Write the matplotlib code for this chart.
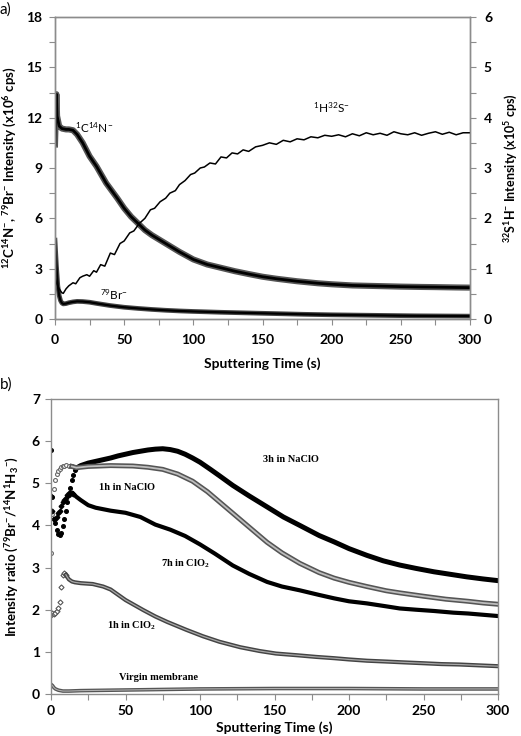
import matplotlib
matplotlib.use("Agg")
import matplotlib.pyplot as plt
import numpy as np
from matplotlib.ticker import MultipleLocator

plt.rcParams["font.family"] = ["Lato", "DejaVu Sans"]
plt.rcParams["mathtext.default"] = "regular"

# ---- panel a: raw intensities ----
t_cn = [0, 1, 1.5, 3, 5, 8, 10, 13, 16, 20, 25, 30, 37, 45, 50, 55, 60, 65, 70, 75, 80,
        90, 100, 110, 120, 130, 140, 150, 160, 175, 190, 200, 215, 225, 240, 250, 265,
        275, 290, 300]
cn = [10.4, 13.4, 12.1, 11.5, 11.35, 11.3, 11.3, 11.25, 11.0, 10.5, 9.7, 9.1, 8.1, 7.2,
      6.6, 6.1, 5.7, 5.3, 5.0, 4.75, 4.5, 4.0, 3.55, 3.25, 3.05, 2.85, 2.68, 2.52, 2.4,
      2.25, 2.13, 2.07, 2.0, 1.98, 1.95, 1.93, 1.91, 1.9, 1.88, 1.87]

t_br = [0, 1, 2, 3, 4, 5, 6, 8, 10, 13, 16, 20, 25, 30, 40, 50, 60, 70, 80, 90, 100,
        120, 140, 160, 180, 200, 220, 240, 260, 280, 300]
br = [4.7, 3.2, 2.0, 1.4, 1.1, 0.95, 0.9, 0.92, 0.97, 1.02, 1.05, 1.04, 1.0, 0.93, 0.8,
      0.7, 0.63, 0.57, 0.52, 0.48, 0.45, 0.4, 0.36, 0.32, 0.28, 0.25, 0.23, 0.21, 0.19,
      0.18, 0.17]

t_sh = [0, 1, 3, 5, 6, 8, 10, 13, 15, 18, 20, 23, 25, 28, 30, 33, 36, 40, 43, 47, 50,
        54, 57, 61, 65, 69, 72, 76, 80, 83, 87, 90, 94, 98, 101, 105, 108, 112, 116,
        120, 124, 128, 132, 136, 140, 145, 150, 155, 160, 165, 170, 175, 180, 185, 190,
        195, 200, 205, 210, 215, 220, 225, 230, 235, 240, 245, 250, 255, 260, 265, 270,
        275, 280, 285, 290, 295, 300]
sh = [0.84, 0.72, 0.6, 0.52, 0.51, 0.6, 0.66, 0.72, 0.7, 0.82, 0.85, 0.88, 0.85, 0.96,
      0.93, 1.08, 1.05, 1.31, 1.28, 1.5, 1.55, 1.71, 1.75, 1.9, 2.0, 2.17, 2.2, 2.33,
      2.4, 2.5, 2.55, 2.67, 2.75, 2.87, 2.9, 3.0, 3.02, 3.1, 3.08, 3.22, 3.2, 3.3,
      3.28, 3.36, 3.33, 3.42, 3.45, 3.5, 3.47, 3.55, 3.52, 3.58, 3.56, 3.62, 3.6,
      3.65, 3.63, 3.66, 3.62, 3.68, 3.64, 3.7, 3.66, 3.69, 3.65, 3.72, 3.68, 3.66,
      3.7, 3.65, 3.69, 3.72, 3.67, 3.71, 3.66, 3.7, 3.7]

# ---- panel b: intensity ratios ----
t_3h = [0, 1, 2, 3, 4, 5, 6, 7, 8, 9, 10, 11, 12, 13, 14, 15, 16, 17, 20, 25, 30, 35,
        40, 45, 50, 55, 60, 65, 70, 75, 80, 85, 90, 95, 100, 107, 113, 122, 133, 145,
        156, 167, 180, 190, 200, 212, 223, 234, 245, 257, 268, 279, 290, 300]
r_3h = [5.8, 4.68, 4.15, 4.05, 3.9, 3.8, 3.77, 3.82, 3.98, 4.16, 4.35, 4.55, 4.72, 4.9,
        5.07, 5.2, 5.31, 5.36, 5.42, 5.48, 5.52, 5.56, 5.6, 5.65, 5.69, 5.73, 5.76,
        5.79, 5.81, 5.82, 5.8, 5.76, 5.69, 5.6, 5.5, 5.33, 5.18, 4.95, 4.7, 4.44, 4.2,
        4.0, 3.76, 3.61, 3.45, 3.29, 3.16, 3.06, 2.98, 2.9, 2.84, 2.78, 2.73, 2.69]

t_1n = [0, 1, 2, 3, 4, 5, 6, 7, 8, 9, 10, 12, 14, 17, 25, 40, 55, 65, 75, 85, 95, 105,
        115, 125, 135, 145, 155, 167, 180, 190, 200, 212, 225, 234, 250, 265, 280, 290,
        300]
r_1n = [3.35, 4.28, 4.86, 5.07, 5.22, 5.3, 5.35, 5.38, 5.4, 5.42, 5.43, 5.42, 5.4, 5.37,
        5.4, 5.42, 5.41, 5.38, 5.33, 5.22, 5.05, 4.8, 4.5, 4.2, 3.9, 3.6, 3.35, 3.1, 2.88,
        2.75, 2.65, 2.55, 2.45, 2.4, 2.32, 2.25, 2.2, 2.16, 2.13]

t_7h = [0, 1, 2, 3, 4, 5, 6, 7, 8, 9, 10, 11, 12, 13, 14, 15, 17, 20, 25, 30, 40, 50,
        60, 70, 80, 90, 100, 110, 122, 133, 145, 155, 167, 180, 190, 200, 212, 225, 234,
        245, 257, 270, 280, 290, 300]
r_7h = [4.7, 4.35, 4.15, 4.15, 4.2, 4.3, 4.35, 4.45, 4.55, 4.6, 4.65, 4.72, 4.76, 4.78,
        4.78, 4.75, 4.68, 4.6, 4.48, 4.42, 4.35, 4.3, 4.2, 4.02, 3.9, 3.75, 3.55, 3.33,
        3.05, 2.85, 2.66, 2.55, 2.46, 2.35, 2.27, 2.2, 2.15, 2.08, 2.03, 2.0, 1.97, 1.93,
        1.91, 1.88, 1.85]

t_1c = [0, 1, 2, 3, 4, 5, 6, 7, 8, 9, 10, 11, 12, 14, 16, 20, 28, 35, 40, 50, 62, 70,
        78, 91, 102, 113, 127, 140, 151, 165, 178, 190, 200, 212, 225, 237, 250, 262,
        274, 287, 300]
r_1c = [1.87, 1.92, 1.9, 1.93, 1.97, 2.05, 2.19, 2.53, 2.82, 2.87, 2.83, 2.77, 2.72,
        2.67, 2.65, 2.63, 2.61, 2.55, 2.48, 2.23, 1.99, 1.84, 1.71, 1.52, 1.37, 1.24,
        1.11, 1.02, 0.96, 0.92, 0.88, 0.85, 0.82, 0.79, 0.77, 0.75, 0.73, 0.71, 0.7,
        0.68, 0.66]

t_vg = [0, 1, 2, 3, 5, 8, 12, 20, 40, 60, 100, 150, 200, 250, 300]
r_vg = [0.23, 0.2, 0.15, 0.12, 0.09, 0.07, 0.07, 0.08, 0.09, 0.1, 0.12, 0.13, 0.13,
        0.12, 0.12]

GREY = "#8c8c8c"


def style_axis(ax, xpad, ypad):
    for s in ax.spines.values():
        s.set_color(GREY)
        s.set_linewidth(1.0)
    ax.tick_params(which="both", direction="out", color=GREY, labelsize=10,
                   length=4, width=0.8)
    ax.tick_params(axis="x", pad=xpad)
    ax.tick_params(axis="y", pad=ypad)
    for lab in ax.get_xticklabels() + ax.get_yticklabels():
        lab.set_fontweight("bold")


def split(t, v, cut):
    t = np.array(t, float)
    v = np.array(v, float)
    return t[t <= cut], v[t <= cut], t[t >= cut], v[t >= cut]


fig = plt.figure(figsize=(5.21, 7.36), dpi=100)

# ================= panel a =================
ax = fig.add_axes([55 / 521, 1 - 319 / 736, 415 / 521, 302 / 736])
ax.plot(t_cn, cn, color="#555555", lw=4.4, solid_joinstyle="round")
ax.plot(t_cn, cn, color="black", lw=2.0)
ax.plot(t_br, br, color="#444444", lw=3.4)
ax.plot(t_br, br, color="black", lw=1.6)
ax.set_xlim(0, 300)
ax.set_ylim(0, 18)
ax.xaxis.set_major_locator(MultipleLocator(50))
ax.xaxis.set_minor_locator(MultipleLocator(25))
ax.yaxis.set_major_locator(MultipleLocator(3))
ax.yaxis.set_minor_locator(MultipleLocator(1.5))
ax.set_xlabel("Sputtering Time (s)", fontsize=10, fontweight="bold", labelpad=8)
ax.set_ylabel("$^{12}$C$^{14}$N$^{-}$, $^{79}$Br$^{-}$ Intensity (x10$^{6}$ cps)",
              fontsize=9.5, fontweight="bold", labelpad=5)
style_axis(ax, 7, 5)

ax2 = ax.twinx()
ax2.plot(t_sh, sh, color="black", lw=1.1)
ax2.set_ylim(0, 6)
ax2.yaxis.set_major_locator(MultipleLocator(1))
ax2.yaxis.set_minor_locator(MultipleLocator(0.5))
ax2.set_ylabel("$^{32}$S$^{1}$H$^{-}$ Intensity (x10$^{5}$ cps)", fontsize=9,
               fontweight="bold", rotation=90, labelpad=8)
style_axis(ax2, 7, 6)

ax.text(28, 11.4, "$^{1}$C$^{14}$N$^{-}$", fontsize=8.5, ha="center", va="center")
ax.text(43, 1.45, "$^{79}$Br$^{-}$", fontsize=8.5, ha="center", va="center")
ax2.text(200, 4.2, "$^{1}$H$^{32}$S$^{-}$", fontsize=8.5, ha="center", va="center")
fig.text(0.0, 1 - 10 / 736, "a)", fontsize=11, va="center", ha="left")

# ================= panel b =================
bx = fig.add_axes([51 / 521, 1 - 694 / 736, 447 / 521, 295 / 736])

e_t, e_v, m_t, m_v = split(t_3h, r_3h, 17)
bx.plot(e_t, e_v, "o", ms=2.6, color="black", ls="none")
bx.plot(m_t, m_v, color="black", lw=3.6)

e_t, e_v, m_t, m_v = split(t_1n, r_1n, 14)
bx.plot(e_t, e_v, "o", ms=2.8, mfc="white", mec="#666666", mew=0.8, ls="none")
bx.plot(m_t, m_v, color="#555555", lw=3.6)
bx.plot(m_t, m_v, color="#bdbdbd", lw=1.3)

e_t, e_v, m_t, m_v = split(t_7h, r_7h, 15)
bx.plot(e_t, e_v, "D", ms=2.4, color="black", ls="none")
bx.plot(m_t, m_v, color="black", lw=3.0)

e_t, e_v, m_t, m_v = split(t_1c, r_1c, 10)
bx.plot(e_t, e_v, "D", ms=2.6, mfc="white", mec="#555555", mew=0.8, ls="none")
bx.plot(m_t, m_v, color="#444444", lw=3.0)
bx.plot(m_t, m_v, color="#a8a8a8", lw=0.9)

bx.plot(t_vg, r_vg, color="#555555", lw=2.6)
bx.plot(t_vg, r_vg, color="#b0b0b0", lw=0.8)

bx.set_xlim(0, 300)
bx.set_ylim(0, 7)
bx.xaxis.set_major_locator(MultipleLocator(50))
bx.xaxis.set_minor_locator(MultipleLocator(25))
bx.yaxis.set_major_locator(MultipleLocator(1))
bx.set_xlabel("Sputtering Time (s)", fontsize=10, fontweight="bold", labelpad=3)
bx.set_ylabel("Intensity ratio ($^{79}$Br$^{-}$/$^{14}$N$^{1}$H$_{3}$$^{-}$)",
              fontsize=9.5, fontweight="bold", labelpad=8)
style_axis(bx, 4, 4)

serif = dict(fontsize=7.5, fontweight="bold", family="Liberation Serif",
             ha="center", va="center")
bx.text(161, 5.57, "3h in NaClO", **serif)
bx.text(51, 4.9, "1h in NaClO", **serif)
bx.text(90, 3.1, "7h in ClO$_{2}$", **serif)
bx.text(54, 1.63, "1h in ClO$_{2}$", **serif)
bx.text(72, 0.4, "Virgin membrane", **serif)
fig.text(0.0, 1 - 385 / 736, "b)", fontsize=11, va="center", ha="left")

fig.savefig("out.png", dpi=100)
